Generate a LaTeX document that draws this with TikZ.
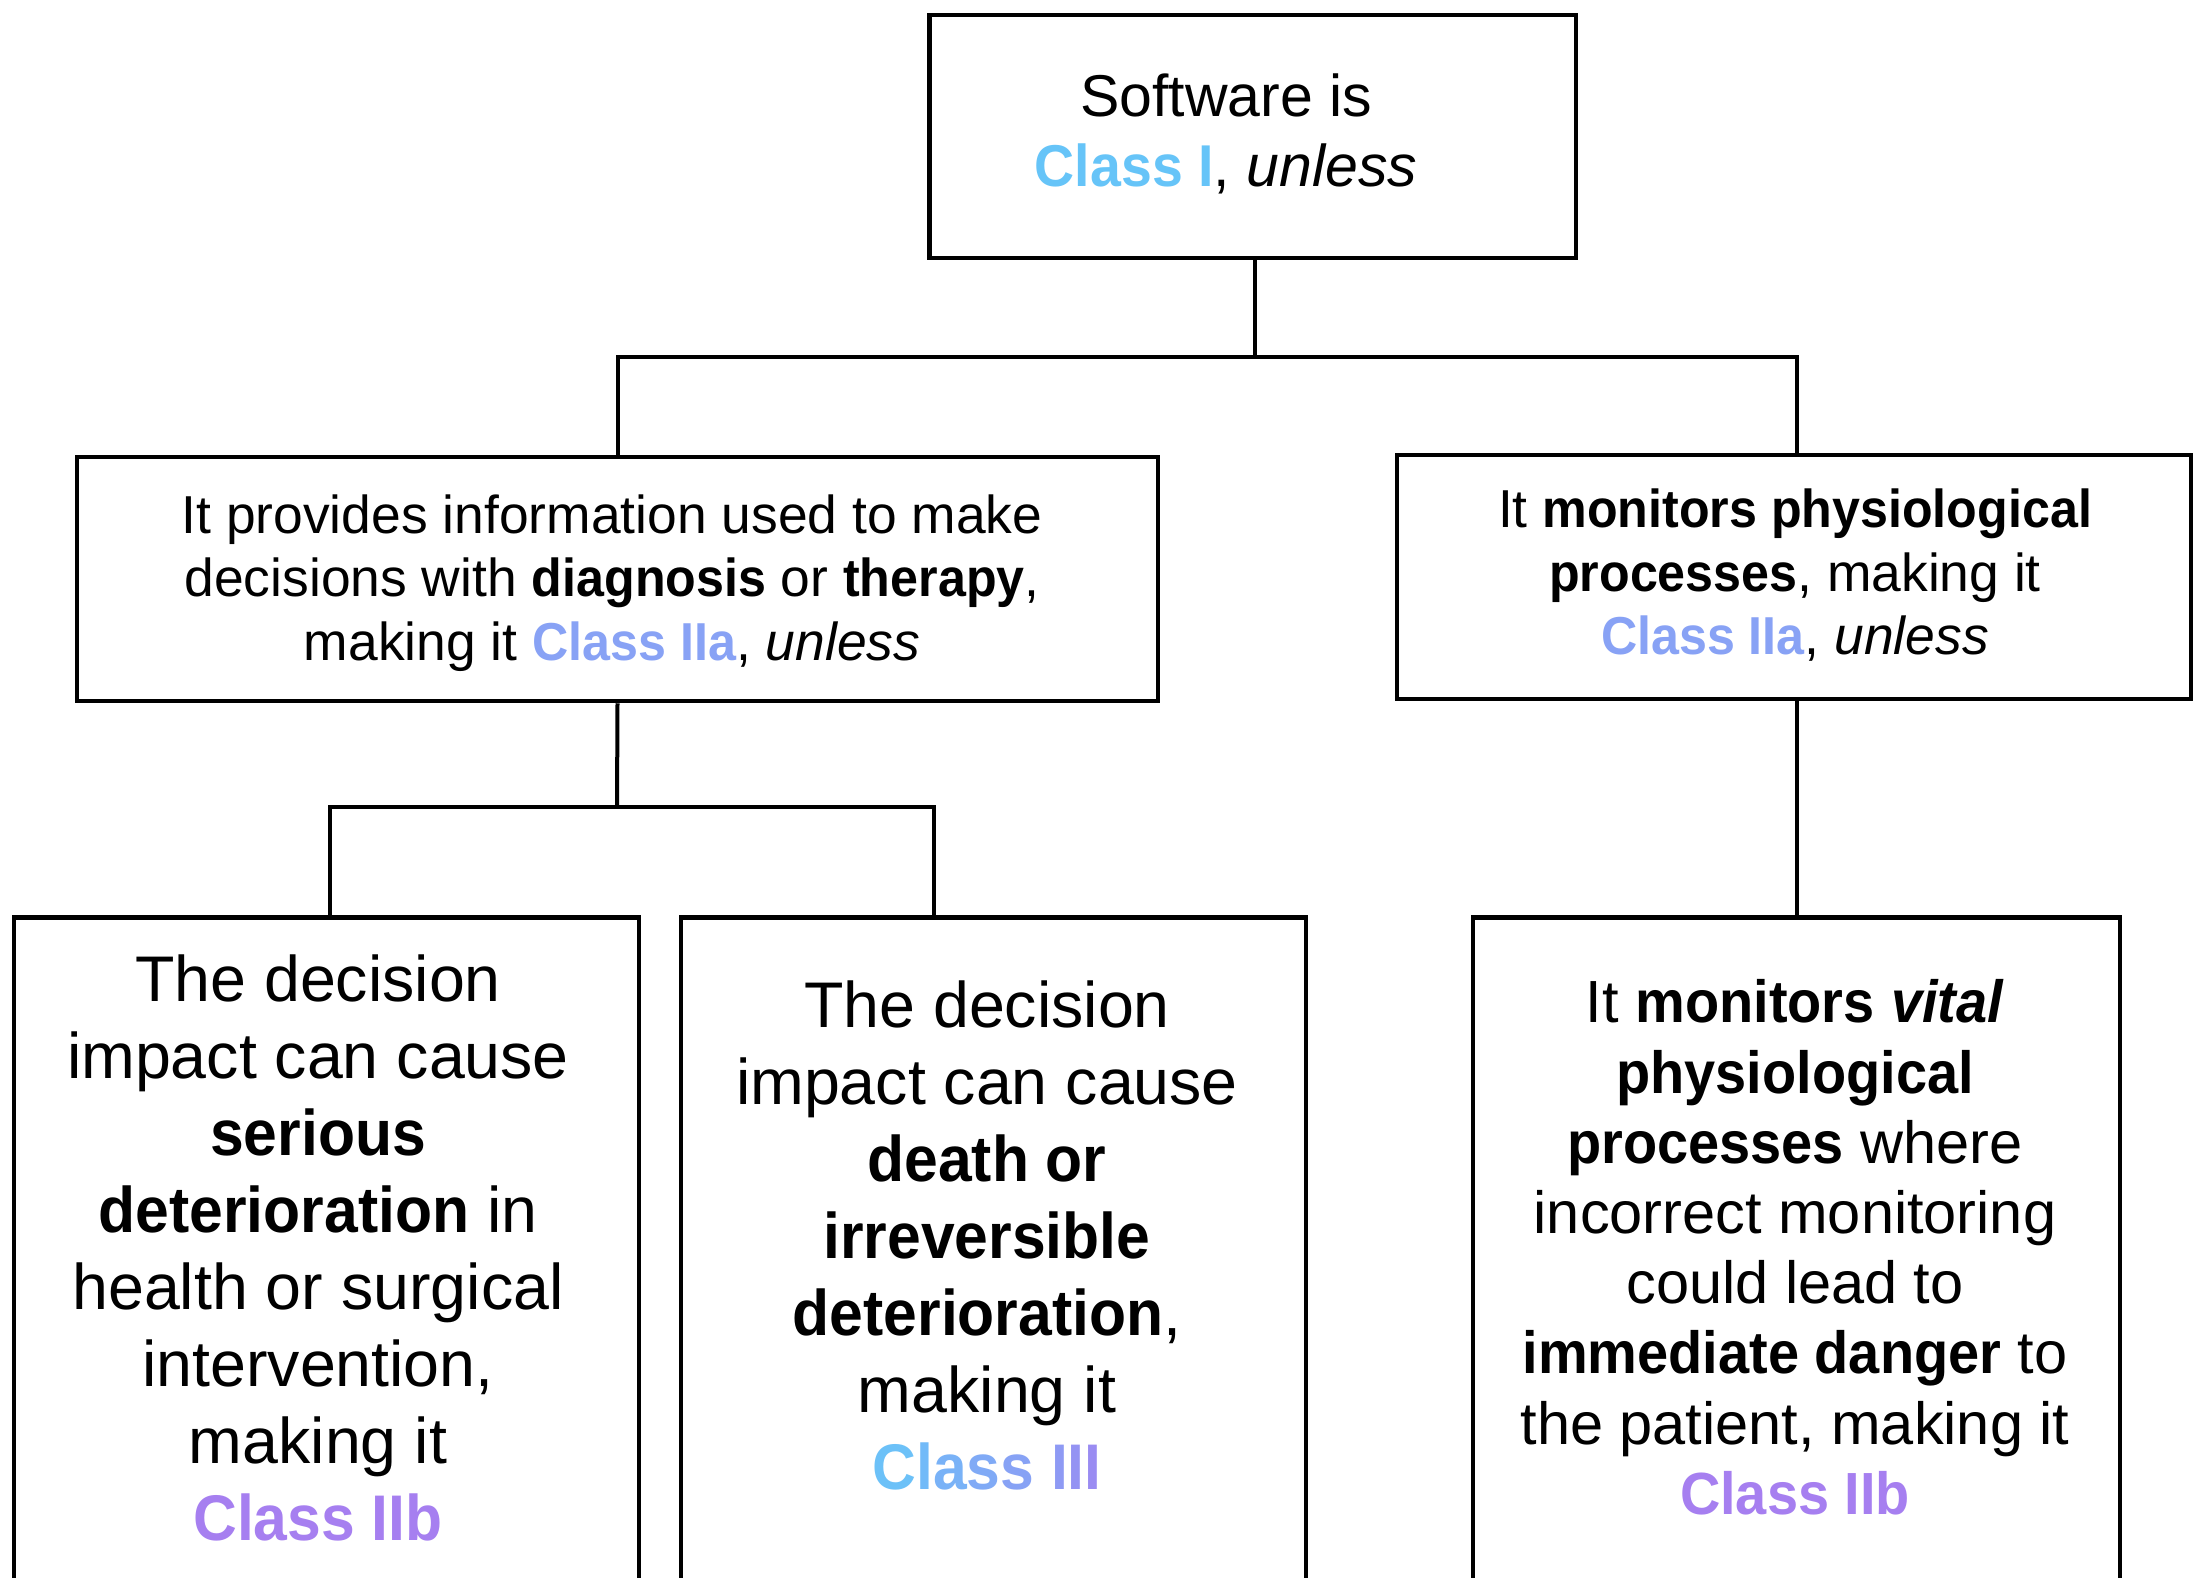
\documentclass[tikz,border=0pt]{standalone}
\usepackage{fontspec}
\setmainfont{Liberation Sans}[BoldFeatures={FakeStretch=0.94},BoldItalicFeatures={FakeStretch=0.94}]
\usetikzlibrary{calc}

\definecolor{clsone}{HTML}{66C4F8}
\definecolor{clstwoa}{HTML}{88A2F5}
\definecolor{clstwob}{HTML}{A67FF0}
% letters of "Class III", shading from blue to violet
\definecolor{gA}{HTML}{6CC1F8}
\definecolor{gB}{HTML}{72BAF8}
\definecolor{gC}{HTML}{79B2F7}
\definecolor{gD}{HTML}{80AAF6}
\definecolor{gE}{HTML}{87A2F5}
\definecolor{gF}{HTML}{8E9AF4}
\definecolor{gG}{HTML}{9493F3}
\definecolor{gH}{HTML}{9A8CF2}

\newcommand{\clsthree}{\bfseries\textcolor{gA}{C}\textcolor{gB}{l}\textcolor{gC}{a}\textcolor{gD}{s}\textcolor{gE}{s} \textcolor{gF}{I}\textcolor{gG}{I}\textcolor{gH}{I}}

\tikzset{
  box/.style={draw, line width=4.5pt, rectangle, inner sep=0pt, fill=white},
  wire/.style={line width=4pt},
  txt/.style={align=center, inner sep=0pt, text=black},
  fsTop/.style={font=\fontsize{59}{70}\selectfont},
  fsMid/.style={font=\fontsize{53.4}{63.5}\selectfont},
  fsBig/.style={font=\fontsize{64.5}{77}\selectfont},
  fsC/.style={font=\fontsize{59.5}{70.2}\selectfont},
}

\begin{document}
\begin{tikzpicture}[x=1pt, y=-1pt]
  \clip (0,0) rectangle (2207,1578);
  \fill[white] (0,0) rectangle (2207,1578);

  % boxes
  \node[box, minimum width=646.5pt, minimum height=243pt] (top) at (1252.75,136.5) {};
  \node[box, minimum width=1081pt, minimum height=244pt] (midL) at (617.5,579) {};
  \node[box, minimum width=794pt, minimum height=244pt] (midR) at (1794,577) {};
  \node[box, minimum width=625pt, minimum height=800pt, anchor=north] (boxA) at (326.5,915) {};
  \node[box, minimum width=625pt, minimum height=800pt, anchor=north] (boxB) at (993.5,915) {};
  \node[box, minimum width=647pt, minimum height=800pt, anchor=north] (boxC) at (1796.5,915) {};

  % junctions of the tree
  \coordinate (j1) at (1255,357);
  \coordinate (j2) at (617,807);
  \coordinate (tA) at (330,915);
  \coordinate (tB) at (934,915);
  \coordinate (kR) at (1797,455);

  % connectors
  \draw[wire] (j1 |- top.south) -- (j1);
  \draw[wire] (midL.north) |- (j1) -| (kR);
  \draw[wire] (midL.south) -- (j2);
  \draw[wire] (tA) |- (j2) -| (tB);
  \draw[wire] (kR |- midR.south) -- (kR |- boxC.north);

  % texts
  \node[txt, fsTop] (tTop) at (1226,138)
    {\strut Software is\\ {\bfseries\color{clsone}Class I}, \textit{unless}\strut};
  \node[txt, fsMid] (tMidL) at (612,584)
    {\strut It provides information used to make\\
     decisions with \textbf{diagnosis} or \textbf{therapy},\\
     making it {\bfseries\color{clstwoa}Class IIa}, \textit{unless}\strut};
  \node[txt, fsMid] (tMidR) at (1795,578.5)
    {\strut It \textbf{monitors physiological}\\
     \textbf{processes}, making it\\
     {\bfseries\color{clstwoa}Class IIa}, \textit{unless}\strut};
  \node[txt, fsBig] (tA) at (318,1256)
    {\strut The decision\\ impact can cause\\ \textbf{serious}\\
     \textbf{deterioration} in\\ health or surgical\\ intervention,\\
     making it\\ {\bfseries\color{clstwob}Class IIb}\strut};
  \node[txt, fsBig] (tB) at (987,1243)
    {\strut The decision\\ impact can cause\\ \textbf{death or}\\
     \textbf{irreversible}\\ \textbf{deterioration},\\ making it\\
     {\clsthree}\strut};
  \node[txt, fsC] (tC) at (1795,1254.5)
    {\strut It \textbf{monitors} \textbf{\textit{vital}}\\ \textbf{physiological}\\
     \textbf{processes} where\\ incorrect monitoring\\ could lead to\\
     \textbf{immediate danger} to\\ the patient, making it\\
     {\bfseries\color{clstwob}Class IIb}\strut};
\end{tikzpicture}
\end{document}
